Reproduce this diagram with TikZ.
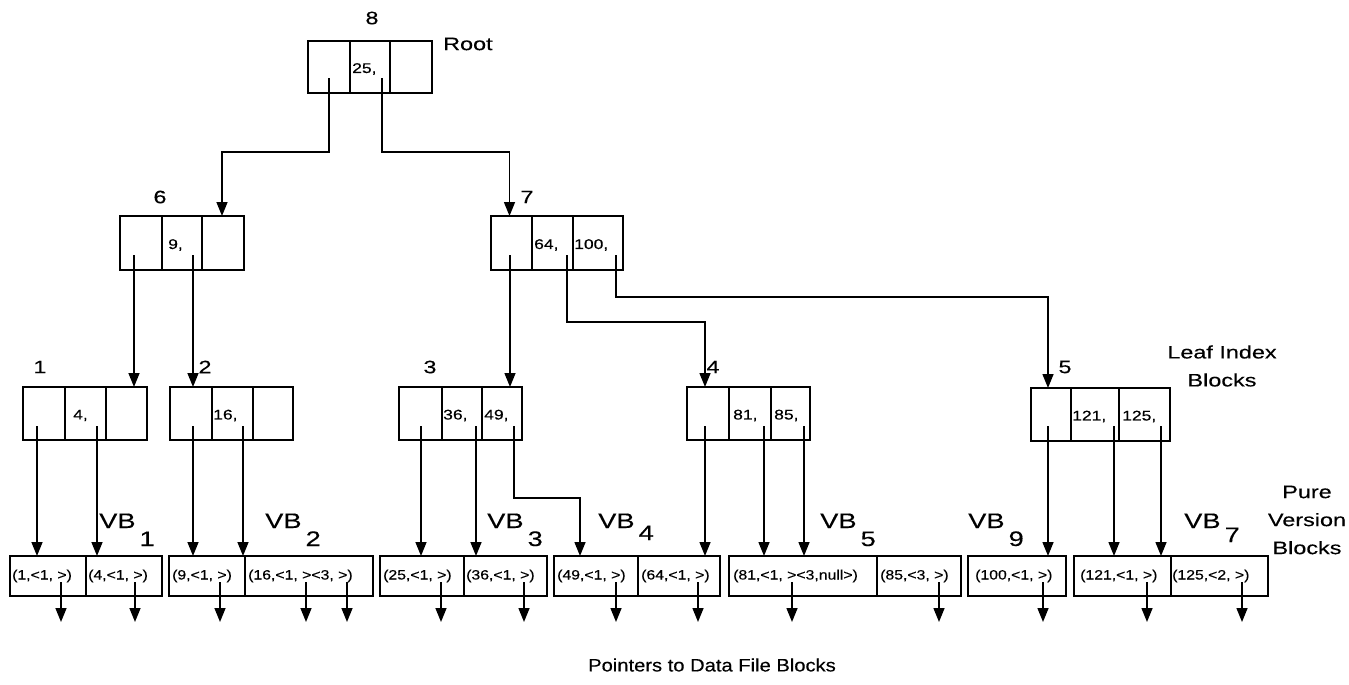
\documentclass[tikz,border=0pt]{standalone}
\usepackage{fontspec}
\setmainfont{Liberation Sans}
\newfontfamily\labfont[FakeStretch=1.3,FakeBold=0.3]{Liberation Sans}
\newfontfamily\botfont[FakeStretch=1.12,FakeBold=0.3]{Liberation Sans}
\newfontfamily\smallfont[FakeStretch=1.25,FakeBold=0.4]{Liberation Sans}
\newfontfamily\vbfont[FakeStretch=1.17,FakeBold=0.4]{Liberation Sans}
\usetikzlibrary{arrows.meta,calc}
\tikzset{
  cell/.style={draw, line width=1.5pt, inner sep=0pt, outer sep=0pt},
  vcell/.style={draw, line width=1.3pt, inner sep=0pt, outer sep=0pt},
  ptr/.style={line width=1.5pt, -{Triangle[length=14pt,width=11pt]}},
  lab/.style={font=\labfont\fontsize{18}{22}\selectfont, inner sep=0pt},
  vblab/.style={font=\labfont\fontsize{21}{24}\selectfont, inner sep=0pt, anchor=base west},
  ctext/.style={font=\smallfont\fontsize{14}{15}\selectfont, inner sep=0pt, anchor=west},
  vtext/.style={font=\vbfont\fontsize{13.5}{15}\selectfont, inner sep=0pt, anchor=west},
}
% #1 name, #2 x1, #3 x2, #4 y1, #5 y2, #6 style
\newcommand\mkcell[6]{%
  \node[#6, minimum width={(#3-#2)*1pt}, minimum height={(#5-#4)*1pt}] (#1) at ({(#2+#3)/2},{(#4+#5)/2}) {};}
\begin{document}
\begin{tikzpicture}[x=1pt,y=-1pt]
\useasboundingbox (0,0) rectangle (1349,685);

% ---------- index blocks ----------
% root
\mkcell{r-a}{308}{350}{41}{93}{cell}
\mkcell{r-b}{350}{390}{41}{93}{cell}
\mkcell{r-c}{390}{432}{41}{93}{cell}
\node[ctext] at ($(r-b.west)+(2,2)$) {25,};
\node[lab] (l8) at (372,18) {8};
\node[lab, anchor=west] (lroot) at (443,44) {Root};

% node 6
\mkcell{n6-a}{120}{162}{216}{270}{cell}
\mkcell{n6-b}{162}{202}{216}{270}{cell}
\mkcell{n6-c}{202}{244}{216}{270}{cell}
\node[ctext] at ($(n6-b.west)+(6,2)$) {9,};
\node[lab] (l6) at (160,197) {6};

% node 7
\mkcell{n7-a}{491}{532}{216}{270}{cell}
\mkcell{n7-b}{532}{573}{216}{270}{cell}
\mkcell{n7-c}{573}{623}{216}{270}{cell}
\node[ctext] at ($(n7-b.west)+(2,2)$) {64,};
\node[ctext] at ($(n7-c.west)+(1,2)$) {100,};
\node[lab] (l7) at (527,197) {7};

% leaf 1
\mkcell{n1-a}{23}{65}{387}{440}{cell}
\mkcell{n1-b}{65}{106}{387}{440}{cell}
\mkcell{n1-c}{106}{147}{387}{440}{cell}
\node[ctext] at ($(n1-b.west)+(8,2)$) {4,};
\node[lab] (l1) at (40,367) {1};

% leaf 2
\mkcell{n2-a}{170}{212}{387}{440}{cell}
\mkcell{n2-b}{212}{253}{387}{440}{cell}
\mkcell{n2-c}{253}{293}{387}{440}{cell}
\node[ctext] at ($(n2-b.west)+(1,2)$) {16,};
\node[lab] (l2) at (205,367) {2};

% leaf 3
\mkcell{n3-a}{399}{442}{387}{440}{cell}
\mkcell{n3-b}{442}{482}{387}{440}{cell}
\mkcell{n3-c}{482}{522}{387}{440}{cell}
\node[ctext] at ($(n3-b.west)+(1,2)$) {36,};
\node[ctext] at ($(n3-c.west)+(2,2)$) {49,};
\node[lab] (l3) at (430,367) {3};

% leaf 4
\mkcell{n4-a}{687}{729}{387}{440}{cell}
\mkcell{n4-b}{729}{771}{387}{440}{cell}
\mkcell{n4-c}{771}{810}{387}{440}{cell}
\node[ctext] at ($(n4-b.west)+(4,2)$) {81,};
\node[ctext] at ($(n4-c.west)+(3,2)$) {85,};
\node[lab] (l4) at (713,367) {4};

% leaf 5
\mkcell{n5-a}{1031}{1071}{388}{441}{cell}
\mkcell{n5-b}{1071}{1119}{388}{441}{cell}
\mkcell{n5-c}{1119}{1170}{388}{441}{cell}
\node[ctext] at ($(n5-b.west)+(1,2)$) {121,};
\node[ctext] at ($(n5-c.west)+(3,2)$) {125,};
\node[lab] (l5) at (1065,367) {5};

\node[lab, align=center] (leaflab) at (1222,366) {Leaf Index\\[6pt]Blocks};

% ---------- version blocks ----------
\mkcell{v1-a}{10}{86}{556}{596}{vcell}
\mkcell{v1-b}{86}{162}{556}{596}{vcell}
\node[vtext] at ($(v1-a.west)+(2,0)$) {(1,<1, >)};
\node[vtext] at ($(v1-b.west)+(2,0)$) {(4,<1, >)};

\mkcell{v2-a}{169}{245}{556}{596}{vcell}
\mkcell{v2-b}{245}{373}{556}{596}{vcell}
\node[vtext] at ($(v2-a.west)+(3,0)$) {(9,<1, >)};
\node[vtext] at ($(v2-b.west)+(3,0)$) {(16,<1, ><3, >)};

\mkcell{v3-a}{380}{464}{556}{596}{vcell}
\mkcell{v3-b}{464}{547}{556}{596}{vcell}
\node[vtext] at ($(v3-a.west)+(3,0)$) {(25,<1, >)};
\node[vtext] at ($(v3-b.west)+(2,0)$) {(36,<1, >)};

\mkcell{v4-a}{554}{638}{556}{596}{vcell}
\mkcell{v4-b}{638}{720}{556}{596}{vcell}
\node[vtext] at ($(v4-a.west)+(3,0)$) {(49,<1, >)};
\node[vtext] at ($(v4-b.west)+(3,0)$) {(64,<1, >)};

\mkcell{v5-a}{729}{877}{556}{596}{vcell}
\mkcell{v5-b}{877}{961}{556}{596}{vcell}
\node[vtext] at ($(v5-a.west)+(4,0)$) {(81,<1, ><3,null>)};
\node[vtext] at ($(v5-b.west)+(3,0)$) {(85,<3, >)};

\mkcell{v9-a}{968}{1066}{556}{596}{vcell}
\node[vtext] at ($(v9-a.west)+(7,0)$) {(100,<1, >)};

\mkcell{v7-a}{1074}{1171}{556}{596}{vcell}
\mkcell{v7-b}{1171}{1268}{556}{596}{vcell}
\node[vtext] at ($(v7-a.west)+(6,0)$) {(121,<1, >)};
\node[vtext] at ($(v7-b.west)+(1,0)$) {(125,<2, >)};

% VB labels
\node[vblab] (vb1) at (99,528) {VB\hspace{4pt}\raisebox{-18pt}{1}};
\node[vblab] (vb2) at (265,528) {VB\hspace{4pt}\raisebox{-18pt}{2}};
\node[vblab] (vb3) at (487,528) {VB\hspace{4pt}\raisebox{-18pt}{3}};
\node[vblab] (vb4) at (598,528) {VB\hspace{4pt}\raisebox{-12pt}{4}};
\node[vblab] (vb5) at (820,528) {VB\hspace{4pt}\raisebox{-18pt}{5}};
\node[vblab] (vb9) at (968,528) {VB\hspace{4pt}\raisebox{-18pt}{9}};
\node[vblab] (vb7) at (1184,528) {VB\hspace{4pt}\raisebox{-14pt}{7}};

\node[lab, align=center] (purelab) at (1307,520) {Pure\\[6pt]Version\\[6pt]Blocks};

\node[lab, font=\botfont\fontsize{18}{22}\selectfont] (ptrlab) at (712,665) {Pointers to Data File Blocks};

% ---------- pointer start points ----------
\coordinate (s-ra) at (329,78);
\coordinate (s-rb) at (382,78);
\coordinate (s-6a) at (134,255);
\coordinate (s-6b) at (193,255);
\coordinate (s-7a) at (510,255);
\coordinate (s-7b) at (567,255);
\coordinate (s-7c) at (616,255);
\coordinate (s-1a) at (37,426);
\coordinate (s-1b) at (97,426);
\coordinate (s-2a) at (193,426);
\coordinate (s-2b) at (243,426);
\coordinate (s-3a) at (421,426);
\coordinate (s-3b) at (476,426);
\coordinate (s-3c) at (514,426);
\coordinate (s-4a) at (705,426);
\coordinate (s-4b) at (764,426);
\coordinate (s-4c) at (804,426);
\coordinate (s-5a) at (1048,426);
\coordinate (s-5b) at (1114,426);
\coordinate (s-5c) at (1161,426);
\coordinate (e-3c) at (580,498);

% root -> 6, 7
\draw[ptr] (s-ra) -- ++(0,74) -| ($(n6-c.north)+(-1,0)$);
\draw[ptr] (s-rb) -- ++(0,74) -| ($(n7-a.north)+(-2,0)$);
% 6 -> 1, 2
\draw[ptr] (s-6a) -- (s-6a |- n1-c.north);
\draw[ptr] (s-6b) -- (s-6b |- n2-a.north);
% 7 -> 3, 4, 5
\draw[ptr] (s-7a) -- (s-7a |- n3-c.north);
\draw[ptr] (s-7b) -- ++(0,67) -| (s-4a |- n4-a.north);
\draw[ptr] (s-7c) -- ++(0,42) -| (s-5a |- n5-a.north);
% leaves -> version blocks
\draw[ptr] (s-1a) -- (s-1a |- v1-a.north);
\draw[ptr] (s-1b) -- (s-1b |- v1-b.north);
\draw[ptr] (s-2a) -- (s-2a |- v2-a.north);
\draw[ptr] (s-2b) -- (s-2b |- v2-a.north);
\draw[ptr] (s-3a) -- (s-3a |- v3-a.north);
\draw[ptr] (s-3b) -- (s-3b |- v3-b.north);
\draw[ptr] (s-3c) -- (s-3c |- e-3c) -- (e-3c) -- (e-3c |- v4-a.north);
\draw[ptr] (s-4a) -- (s-4a |- v4-b.north);
\draw[ptr] (s-4b) -- (s-4b |- v5-a.north);
\draw[ptr] (s-4c) -- (s-4c |- v5-a.north);
\draw[ptr] (s-5a) -- (s-5a |- v9-a.north);
\draw[ptr] (s-5b) -- (s-5b |- v7-a.north);
\draw[ptr] (s-5c) -- (s-5c |- v7-a.north);

% pointers to data file blocks
\foreach \i/\x in {1/61,2/135,3/220,4/306,5/347,6/441,7/524,8/616,9/698,10/792,11/939,12/1043,13/1147,14/1242}{
  \coordinate (o\i) at (\x,582);
  \draw[ptr] (o\i) -- ++(0,40);
}
\end{tikzpicture}
\end{document}
